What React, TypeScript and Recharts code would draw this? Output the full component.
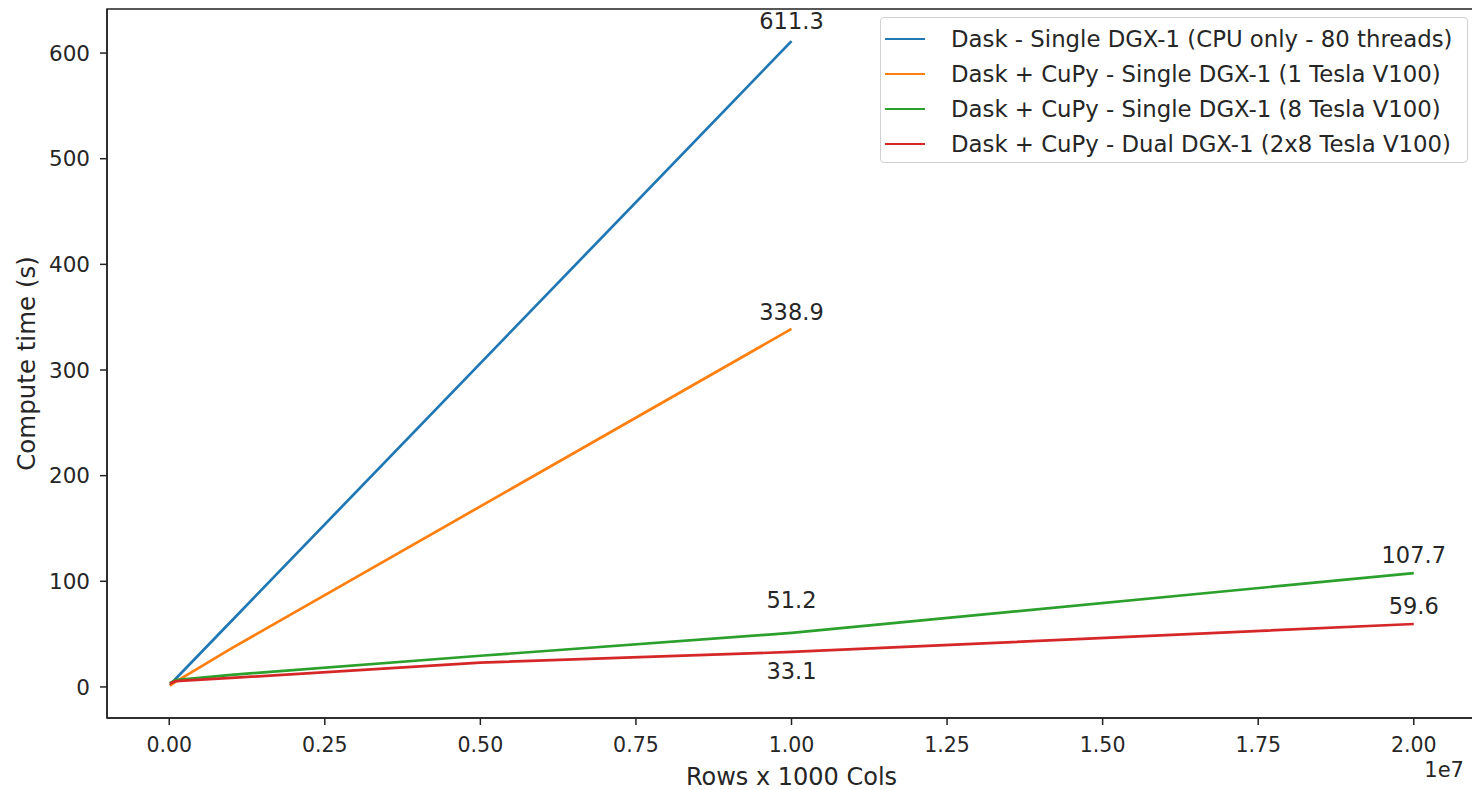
import React from 'react';
import { LineChart, Line, XAxis, YAxis, ReferenceArea, ReferenceDot } from 'recharts';

// ---- data ----
const cpuRows = [10000, 100000, 1000000, 10000000];
const cpuTimes = [1.5, 7.5, 62.4, 611.3];

const gpu1Rows = [10000, 100000, 1000000, 10000000];
const gpu1Times = [1.2, 4.8, 36.5, 338.9];

const gpu8Rows = [10000, 100000, 1000000, 5000000, 10000000, 20000000];
const gpu8Times = [3.5, 6.5, 11.5, 29.5, 51.2, 107.7];

const dualRows = [10000, 100000, 1000000, 5000000, 10000000, 20000000];
const dualTimes = [3.0, 5.5, 8.5, 23.0, 33.1, 59.6];

const seriesNames = [
  'Dask - Single DGX-1 (CPU only - 80 threads)',
  'Dask + CuPy - Single DGX-1 (1 Tesla V100)',
  'Dask + CuPy - Single DGX-1 (8 Tesla V100)',
  'Dask + CuPy - Dual DGX-1 (2x8 Tesla V100)',
];
const seriesColors = ['#1f77b4', '#ff7f0e', '#2ca02c', '#d62728'];

const xTicks = [0, 2500000, 5000000, 7500000, 10000000, 12500000, 15000000, 17500000, 20000000];
const yTicks = [0, 100, 200, 300, 400, 500, 600];

// annotations
const annX = [10000000, 10000000, 10000000, 10000000, 20000000, 20000000];
const annY = [611.3, 338.9, 51.2, 33.1, 107.7, 59.6];
const annText = ['611.3', '338.9', '51.2', '33.1', '107.7', '59.6'];
const annOffset = [-20, -17, -33, 19, -18, -18];

const toPoints = (xs: number[], ys: number[]) => xs.map((x, i) => ({ x, y: ys[i] }));
const seriesData = [
  toPoints(cpuRows, cpuTimes),
  toPoints(gpu1Rows, gpu1Times),
  toPoints(gpu8Rows, gpu8Times),
  toPoints(dualRows, dualTimes),
];

const X_DOMAIN: [number, number] = [-1000000, 21000000];
const Y_DOMAIN: [number, number] = [-29.4, 641.7];
const FONT = '"DejaVu Sans", sans-serif';
const TEXT = '#262626';

const LegendBox = () => (
  <div
    style={{
      position: 'absolute',
      left: 872,
      top: 9,
      width: 588,
      height: 146,
      border: '1px solid #d0d0d0',
      borderRadius: 4,
      background: 'rgba(255,255,255,0.85)',
      boxSizing: 'border-box',
      fontFamily: FONT,
      fontSize: 22.8,
      color: TEXT,
    }}
  >
    {seriesNames.map((n, i) => (
      <div
        key={n}
        style={{
          position: 'absolute',
          left: 4,
          top: 21 + i * 35 - 15,
          height: 30,
          display: 'flex',
          alignItems: 'center',
          whiteSpace: 'nowrap',
        }}
      >
        <span style={{ display: 'inline-block', width: 40, height: 0, borderTop: `2.7px solid ${seriesColors[i]}`, marginRight: 26 }} />
        <span>{n}</span>
      </div>
    ))}
  </div>
);

const YLabel = (props: any) => {
  const vb = props.viewBox || {};
  const cx = (vb.x || 0) + 18;
  const cy = (vb.y || 0) + (vb.height || 0) / 2;
  return (
    <text x={cx} y={cy} transform={`rotate(-90, ${cx}, ${cy})`} textAnchor="middle" dominantBaseline="central" fontFamily={FONT} fontSize={24.5} fill={TEXT}>
      Compute time (s)
    </text>
  );
};

const XLabel = (props: any) => {
  const vb = props.viewBox || {};
  const x = vb.x || 0;
  const y = vb.y || 0;
  const w = vb.width || 0;
  return (
    <g>
      <text x={x + w / 2} y={y + 59} textAnchor="middle" dominantBaseline="central" fontFamily={FONT} fontSize={24} fill={TEXT}>
        Rows x 1000 Cols
      </text>
      <text x={x + w - 12} y={y + 52} textAnchor="end" dominantBaseline="central" fontFamily={FONT} fontSize={21} fill={TEXT}>
        1e7
      </text>
    </g>
  );
};

export default function App() {
  return (
    <div style={{ width: 1472, height: 782, position: 'relative', background: '#fff' }}>
      <LineChart width={1472} height={782} margin={{ top: 1, right: 4, bottom: 0, left: 0 }}>
        <XAxis
          type="number"
          dataKey="x"
          domain={X_DOMAIN}
          ticks={xTicks}
          allowDataOverflow
          tickFormatter={(v: number) => (v / 1e7).toFixed(2)}
          height={72}
          tickSize={7}
          tickMargin={12}
          stroke="#222"
          strokeWidth={1.5}
          tick={{ fontFamily: FONT, fontSize: 20.5, fill: TEXT }}
          label={{ content: XLabel }}
        />
        <YAxis
          type="number"
          dataKey="y"
          domain={Y_DOMAIN}
          ticks={yTicks}
          allowDataOverflow
          width={99}
          tickSize={7}
          tickMargin={10}
          stroke="#222"
          strokeWidth={1.5}
          tick={{ fontFamily: FONT, fontSize: 21.5, fill: TEXT }}
          label={{ content: YLabel }}
        />
        <ReferenceArea
          x1={X_DOMAIN[0]}
          x2={X_DOMAIN[1]}
          y1={Y_DOMAIN[0]}
          y2={Y_DOMAIN[1]}
          fill="none"
          stroke="#222"
          strokeWidth={1.5}
          ifOverflow="extendDomain"
        />
        {seriesData.map((d, i) => (
          <Line
            key={seriesNames[i]}
            data={d}
            dataKey="y"
            name={seriesNames[i]}
            type="linear"
            stroke={seriesColors[i]}
            strokeWidth={2.7}
            dot={false}
            activeDot={false}
            isAnimationActive={false}
          />
        ))}
        {annText.map((t, i) => (
          <ReferenceDot
            key={'ann' + i}
            x={annX[i]}
            y={annY[i]}
            r={0}
            ifOverflow="visible"
            shape={(p: any) => (
              <text x={p.cx} y={p.cy + annOffset[i]} textAnchor="middle" dominantBaseline="central" fontFamily={FONT} fontSize={22.5} fill={TEXT}>
                {t}
              </text>
            )}
          />
        ))}
      </LineChart>
      <LegendBox />
    </div>
  );
}
